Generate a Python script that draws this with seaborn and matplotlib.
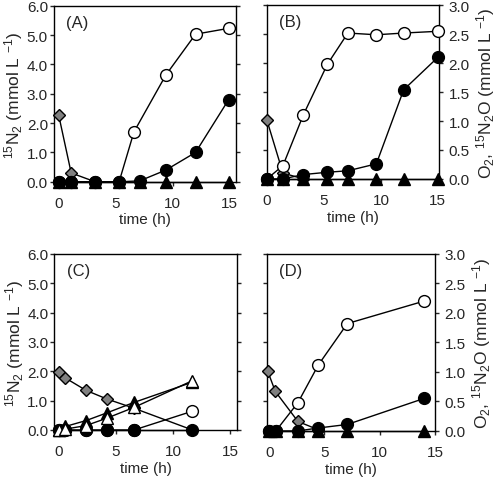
import numpy as np
import pandas as pd
import matplotlib
matplotlib.use("Agg")
import matplotlib.pyplot as plt
import seaborn as sns

# ---- data (panel units = the axis each panel shows) ----
# (A) left axis, 15N2 scale 0-6
a_t_open = [0, 1.1, 3.2, 5.3, 6.6, 9.4, 12.0, 14.9]
a_open = [0, 0, 0, 0, 1.70, 3.64, 5.03, 5.23]
a_t = [0, 1.1, 3.2, 5.3, 7.1, 9.4, 12.0, 14.9]
a_filled = [0, 0, 0, 0, 0.03, 0.40, 1.00, 2.80]
a_tri = [0, 0, 0, 0, 0, 0, 0, 0]
a_t_dia = [0, 1.1, 3.2]
a_dia = [2.28, 0.30, 0.0]

# (B) right axis, O2 / 15N2O scale 0-3
b_t = [0, 1.4, 3.2, 5.3, 7.1, 9.6, 12.0, 15.0]
b_open = [0, 0.23, 1.11, 1.98, 2.52, 2.49, 2.52, 2.55]
b_filled = [0, 0, 0.075, 0.115, 0.14, 0.26, 1.54, 2.10]
b_tri = [0, 0, 0, 0, 0, 0, 0, 0]
b_t_dia = [0, 1.4, 3.2]
b_dia = [1.01, 0.10, 0.0]

# (C) left axis, 15N2 scale 0-6
c_t = [0, 0.6, 2.4, 4.2, 6.6, 11.7]
c_open = [0, 0, 0, 0, 0, 0.64]
c_filled = [0, 0, 0, 0, 0, 0]
c_tri = [0, 0.12, 0.32, 0.58, 0.94, 1.63]
c_tri_open = [0, 0.03, 0.15, 0.40, 0.77, 1.68]
c_dia = [1.97, 1.77, 1.35, 1.06, 0.74, 0.0]

# (D) right axis, O2 / 15N2O scale 0-3
d_t = [0, 0.6, 2.6, 4.45, 7.07, 14.0]
d_open = [0, 0, 0.48, 1.12, 1.82, 2.20]
d_filled = [0, 0, 0, 0.05, 0.11, 0.55]
d_tri = [0, 0, 0, 0, 0, 0]
d_t_dia = [-0.15, 0.55, 2.6, 4.45]
d_dia = [1.02, 0.67, 0.16, 0.02]

sns.set_style("ticks")
plt.rcParams['font.family'] = ['Liberation Sans', 'DejaVu Sans']
plt.rcParams['mathtext.fontset'] = 'custom'
plt.rcParams['mathtext.rm'] = 'Liberation Sans'
plt.rcParams['mathtext.it'] = 'Liberation Sans:italic'
plt.rcParams['mathtext.bf'] = 'Liberation Sans:bold'

FS = 11
LW = 1.0


def series(ax, t, v, marker, face, size, z):
    sns.lineplot(x=t, y=v, ax=ax, sort=False, estimator=None, color='black',
                 linewidth=LW, marker=marker, markersize=size,
                 markerfacecolor=face, markeredgecolor='black',
                 markeredgewidth=1.0, clip_on=False, zorder=z)


def style(ax, label, right, ymax, xlim):
    ax.set_xlim(*xlim)
    ax.set_ylim(0, ymax)
    ax.set_xticks([0, 5, 10, 15])
    ax.tick_params(axis='x', direction='out', length=3, width=1, labelsize=FS, pad=7)
    if right:
        ax.set_yticks(np.arange(0, 3.01, 0.5))
        ax.set_yticklabels([f"{v:.1f}" for v in np.arange(0, 3.01, 0.5)])
        ax.tick_params(axis='y', left=True, right=True, labelleft=False, labelright=True,
                       direction='out', length=3, width=1, labelsize=FS, pad=4)
        ax.yaxis.set_label_position('right')
        ax.set_ylabel("O$_2$, $^{15}$N$_2$O (mmol L $^{-1}$)", fontsize=12.5, labelpad=3)
    else:
        ax.set_yticks(np.arange(0, 6.01, 1.0))
        ax.set_yticklabels([f"{v:.1f}" for v in np.arange(0, 6.01, 1.0)])
        ax.tick_params(axis='y', left=True, right=True, labelleft=True, labelright=False,
                       direction='out', length=3, width=1, labelsize=FS, pad=1)
        ax.set_ylabel("$^{15}$N$_2$ (mmol L $^{-1}$)", fontsize=12.5, labelpad=1)
    ax.set_xlabel("time (h)", fontsize=FS, labelpad=2)
    for s in ax.spines.values():
        s.set_visible(True)
        s.set_linewidth(1.0)
        s.set_color('black')
    ax.text(0.07, 0.95, label, transform=ax.transAxes, fontsize=12, va='top', ha='left')
    ax.set_facecolor('white')


fig = plt.figure(figsize=(5, 4.81), dpi=100)
axA = fig.add_axes([0.107, 0.620, 0.364, 0.366])
axB = fig.add_axes([0.534, 0.626, 0.344, 0.361])
axC = fig.add_axes([0.108, 0.104, 0.366, 0.366])
axD = fig.add_axes([0.534, 0.102, 0.336, 0.368])

grey = '#808080'

# A
series(axA, a_t_dia, a_dia, 'D', grey, 6.5, 3)
series(axA, a_t_open, a_open, 'o', 'white', 8.5, 4)
series(axA, a_t, a_tri, '^', 'black', 8, 5)
series(axA, a_t, a_filled, 'o', 'black', 8.5, 6)
style(axA, "(A)", False, 6, (-0.45, 15.5))

# B
series(axB, b_t_dia, b_dia, 'D', grey, 6.5, 3)
series(axB, b_t, b_open, 'o', 'white', 8.5, 4)
series(axB, b_t, b_tri, '^', 'black', 8, 5)
series(axB, b_t, b_filled, 'o', 'black', 8.5, 6)
style(axB, "(B)", True, 3, (0, 15.1))

# C
series(axC, c_t, c_dia, 'D', grey, 6.5, 3)
series(axC, c_t, c_open, 'o', 'white', 8.5, 4)
series(axC, c_t, c_filled, 'o', 'black', 8.5, 5)
series(axC, c_t, c_tri, '^', 'black', 8, 6)
series(axC, c_t, c_tri_open, '^', 'white', 8.5, 7)
style(axC, "(C)", False, 6, (-0.4, 15.6))

# D
series(axD, d_t_dia, d_dia, 'D', grey, 6.5, 3)
series(axD, d_t, d_open, 'o', 'white', 8.5, 4)
series(axD, d_t, d_tri, '^', 'black', 8, 5)
series(axD, d_t, d_filled, 'o', 'black', 8.5, 6)
style(axD, "(D)", True, 3, (-0.2, 15.0))

fig.savefig("out.png", dpi=100, facecolor='white')
